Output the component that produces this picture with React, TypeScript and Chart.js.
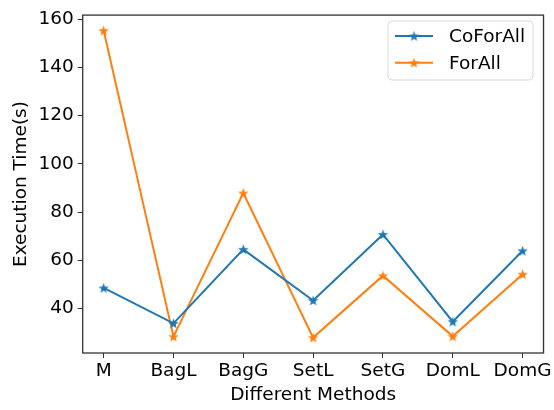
import { useEffect, useRef } from 'react';
import { Chart, registerables } from 'chart.js';

Chart.register(...registerables);

const categories = ['M', 'BagL', 'BagG', 'SetL', 'SetG', 'DomL', 'DomG'];
const coForAll = [48.5, 33.8, 64.5, 43.3, 70.7, 34.5, 63.9];
const forAll = [155.3, 28.3, 87.9, 27.9, 53.6, 28.4, 54.2];
const yTicks = [40, 60, 80, 100, 120, 140, 160];
const seriesNames = ['CoForAll', 'ForAll'];
const seriesColors = ['#1f77b4', '#ff7f0e'];
const yLimits = [21.5, 161.7];
const xLimits = [-0.3, 6.3];

const FONT = 'DejaVu Sans';
const FSIZE = 18.5;

function makeStar(color: string, r: number): HTMLCanvasElement {
  const s = Math.ceil(r * 2 + 2);
  const c = document.createElement('canvas');
  c.width = s;
  c.height = s;
  const ctx = c.getContext('2d')!;
  const cx = s / 2;
  const cy = s / 2 + 0.5;
  ctx.beginPath();
  for (let i = 0; i < 10; i++) {
    const a = -Math.PI / 2 + (i * Math.PI) / 5;
    const rr = i % 2 ? r * 0.42 : r;
    const x = cx + rr * Math.cos(a);
    const y = cy + rr * Math.sin(a);
    if (i === 0) ctx.moveTo(x, y);
    else ctx.lineTo(x, y);
  }
  ctx.closePath();
  ctx.fillStyle = color;
  ctx.fill();
  return c;
}

const framePlugin = {
  id: 'frame',
  afterDraw(chart: any) {
    const { ctx, chartArea } = chart;
    ctx.save();
    ctx.strokeStyle = '#333';
    ctx.lineWidth = 1.3;
    ctx.strokeRect(chartArea.left, chartArea.top, chartArea.right - chartArea.left, chartArea.bottom - chartArea.top);

    // legend
    const bx = 388, by = 21, bw = 145, bh = 59;
    const rad = 4;
    ctx.beginPath();
    ctx.moveTo(bx + rad, by);
    ctx.lineTo(bx + bw - rad, by);
    ctx.quadraticCurveTo(bx + bw, by, bx + bw, by + rad);
    ctx.lineTo(bx + bw, by + bh - rad);
    ctx.quadraticCurveTo(bx + bw, by + bh, bx + bw - rad, by + bh);
    ctx.lineTo(bx + rad, by + bh);
    ctx.quadraticCurveTo(bx, by + bh, bx, by + bh - rad);
    ctx.lineTo(bx, by + rad);
    ctx.quadraticCurveTo(bx, by, bx + rad, by);
    ctx.closePath();
    ctx.fillStyle = 'rgba(255,255,255,0.8)';
    ctx.fill();
    ctx.strokeStyle = '#d9d9d9';
    ctx.lineWidth = 1;
    ctx.stroke();

    chart.data.datasets.forEach((ds: any, i: number) => {
      const y = 36 + i * 26.7;
      ctx.strokeStyle = ds.borderColor;
      ctx.lineWidth = 2;
      ctx.beginPath();
      ctx.moveTo(395, y);
      ctx.lineTo(433, y);
      ctx.stroke();
      const img = ds.pointStyle as HTMLCanvasElement;
      ctx.drawImage(img, 414 - img.width / 2, y - img.height / 2);
      ctx.fillStyle = '#000';
      ctx.font = `${FSIZE}px "${FONT}"`;
      ctx.textAlign = 'left';
      ctx.textBaseline = 'middle';
      ctx.fillText(ds.label, 449, y + 1);
    });
    ctx.restore();
  },
};

export default function App() {
  const ref = useRef<HTMLCanvasElement>(null);
  useEffect(() => {
    const values = [coForAll, forAll];
    const chart = new Chart(ref.current!, {
      type: 'line',
      data: {
        datasets: values.map((arr, k) => ({
          label: seriesNames[k],
          data: arr.map((v, i) => ({ x: i, y: v })),
          borderColor: seriesColors[k],
          backgroundColor: seriesColors[k],
          borderWidth: 2,
          pointStyle: makeStar(seriesColors[k], 5.5) as any,
          pointRadius: 5,
          tension: 0,
          fill: false,
        })),
      },
      options: {
        animation: false,
        responsive: false,
        devicePixelRatio: 1,
        layout: { padding: { top: 11, right: 10, left: 0, bottom: 0 } },
        plugins: { legend: { display: false }, tooltip: { enabled: false } },
        scales: {
          x: {
            type: 'linear',
            min: xLimits[0],
            max: xLimits[1],
            afterBuildTicks: (scale: any) => {
              scale.ticks = categories.map((_, i) => ({ value: i }));
            },
            afterFit: (scale: any) => {
              scale.height = 57;
            },
            ticks: {
              callback: (v: any) => categories[v] ?? '',
              font: { family: FONT, size: FSIZE },
              color: '#000',
              padding: 2,
              maxRotation: 0,
              autoSkip: false,
            },
            grid: { display: true, drawOnChartArea: false, drawTicks: true, tickLength: 5, tickColor: '#333' },
            border: { display: false },
            title: {
              display: true,
              text: 'Different Methods',
              font: { family: FONT, size: FSIZE },
              color: '#000',
              padding: { top: 0, bottom: 4 },
            },
          },
          y: {
            type: 'linear',
            min: yLimits[0],
            max: yLimits[1],
            afterBuildTicks: (scale: any) => {
              scale.ticks = yTicks.map((v) => ({ value: v }));
            },
            afterFit: (scale: any) => {
              scale.width = 82.7;
            },
            ticks: {
              font: { family: FONT, size: FSIZE },
              color: '#000',
              padding: 4,
            },
            grid: { display: true, drawOnChartArea: false, drawTicks: true, tickLength: 5, tickColor: '#333' },
            border: { display: false },
            title: {
              display: true,
              text: 'Execution Time(s)',
              font: { family: FONT, size: FSIZE },
              color: '#000',
              padding: { top: 10, bottom: 0 },
            },
          },
        },
      },
      plugins: [framePlugin],
    });
    return () => chart.destroy();
  }, []);
  return (
    <div style={{ position: 'absolute', left: 0, top: 0, width: 554, height: 410, background: '#fff' }}>
      <canvas ref={ref} width={554} height={410} style={{ display: 'block' }} />
    </div>
  );
}
